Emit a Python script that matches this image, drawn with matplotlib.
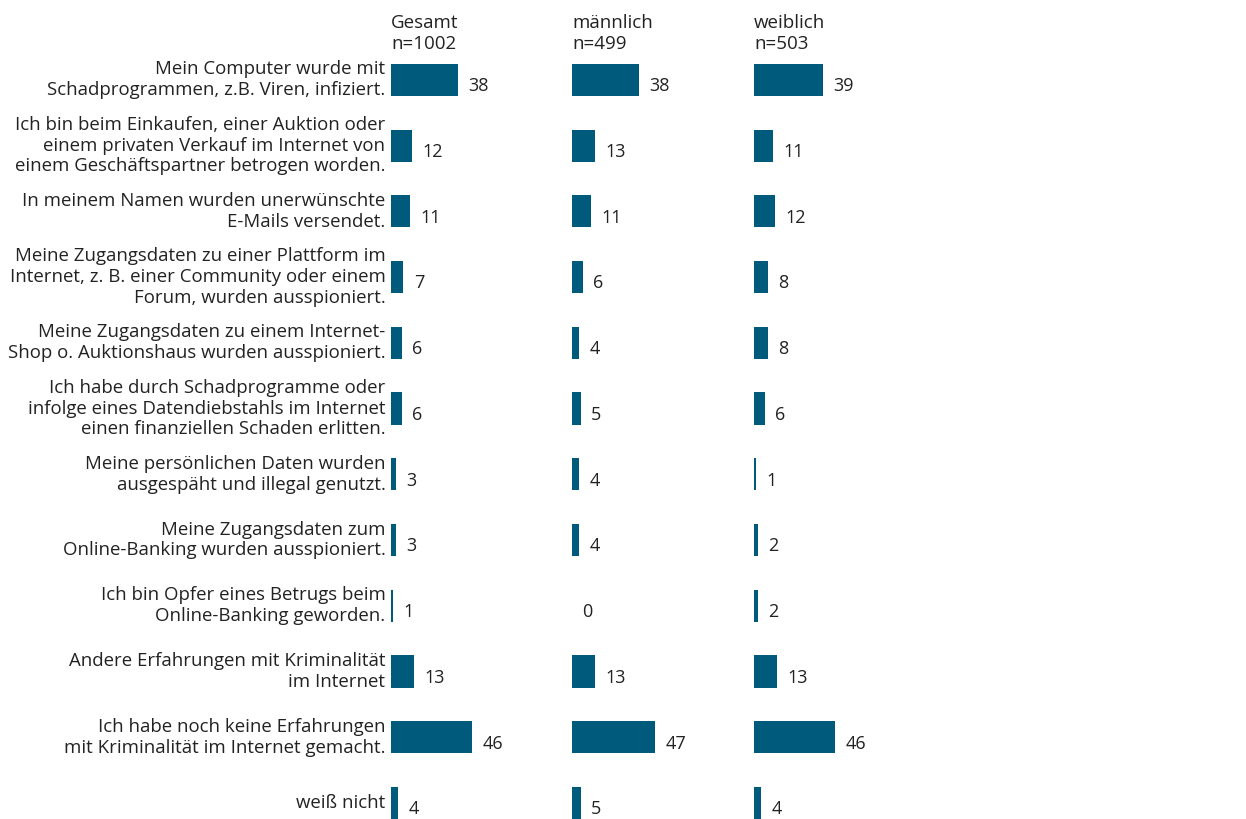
import matplotlib.pyplot as plt
import numpy as np

plt.rcParams['font.family'] = ['Open Sans', 'DejaVu Sans']

kategorien = [
    'Mein Computer wurde mit\nSchadprogrammen, z.B. Viren, infiziert.',
    'Ich bin beim Einkaufen, einer Auktion oder\neinem privaten Verkauf im Internet von\neinem Geschäftspartner betrogen worden.',
    'In meinem Namen wurden unerwünschte\nE-Mails versendet.',
    'Meine Zugangsdaten zu einer Plattform im\nInternet, z. B. einer Community oder einem\nForum, wurden ausspioniert.',
    'Meine Zugangsdaten zu einem Internet-\nShop o. Auktionshaus wurden ausspioniert.',
    'Ich habe durch Schadprogramme oder\ninfolge eines Datendiebstahls im Internet\neinen finanziellen Schaden erlitten.',
    'Meine persönlichen Daten wurden\nausgespäht und illegal genutzt.',
    'Meine Zugangsdaten zum\nOnline-Banking wurden ausspioniert.',
    'Ich bin Opfer eines Betrugs beim\nOnline-Banking geworden.',
    'Andere Erfahrungen mit Kriminalität\nim Internet',
    'Ich habe noch keine Erfahrungen\nmit Kriminalität im Internet gemacht.',
    'weiß nicht',
]
gruppen = ['Gesamt\nn=1002', 'männlich\nn=499', 'weiblich\nn=503']
gesamt = [38, 12, 11, 7, 6, 6, 3, 3, 1, 13, 46, 4]
maennlich = [38, 13, 11, 6, 4, 5, 4, 4, 0, 13, 47, 5]
weiblich = [39, 11, 12, 8, 8, 6, 1, 2, 2, 13, 46, 4]

farbe = '#005a7b'
W, H = 1246, 819
fig = plt.figure(figsize=(W / 100, H / 100), dpi=100)

px_per_unit = 1.77
links = [391, 572, 754]
breite = 170
oben = 47
y = np.arange(len(kategorien))

for i, (werte, titel) in enumerate(zip([gesamt, maennlich, weiblich], gruppen)):
    ax = fig.add_axes([links[i] / W, 0, breite / W, 1 - oben / H])
    ax.barh(y, werte, height=0.49, color=farbe)
    ax.set_xlim(0, breite / px_per_unit)
    ax.set_ylim(11 + (H - 803) / 65.7, -0.5)
    ax.axis('off')
    for yi, v in zip(y, werte):
        ax.annotate(str(v), (v, yi), xytext=(7.5, -4.5), textcoords='offset points',
                    ha='left', va='center', fontsize=13, color='#222222')
    fig.text(links[i] / W, 1 - 14 / H, titel, ha='left', va='top',
             fontsize=13.5, color='#222222', linespacing=1.2)
    if i == 0:
        for yi, k in zip(y, kategorien):
            ax.annotate(k, (0, yi), xytext=(-4, 0), textcoords='offset points',
                        ha='right', va='center', fontsize=13.4, color='#222222',
                        linespacing=1.2, multialignment='right')

fig.savefig('out.png', dpi=100)
